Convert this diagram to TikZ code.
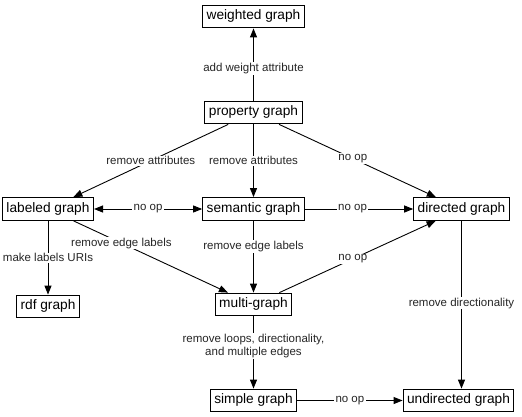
\documentclass[tikz,border=0pt]{standalone}
\usepackage{fontspec}
\setmainfont{Liberation Sans}
\usetikzlibrary{arrows.meta}
\begin{document}
\begin{tikzpicture}[x=1pt,y=-1pt,
 >={Triangle[length=9pt,width=7pt]},
 box/.style={draw, line width=1pt, font=\fontsize{13.7}{16}\selectfont, inner xsep=4pt, inner ysep=5pt, text height=9.8pt, text depth=3pt},
 lbl/.style={fill=white, font=\fontsize{11.5}{12.5}\selectfont, inner xsep=1.5pt, inner ysep=1pt, text=black!85},
 arr/.style={line width=0.9pt, ->},
]
\useasboundingbox (0,0) rectangle (522,416);
\node[box] (w) at (253.5,16.5) {weighted graph};
\node[box] (p) at (253.5,112.5) {property graph};
\node[box] (l) at (48,209) {labeled graph};
\node[box] (s) at (253.5,209) {semantic graph};
\node[box] (d) at (461.5,209) {directed graph};
\node[box] (r) at (48,306.5) {rdf graph};
\node[box] (m) at (253.5,304.5) {multi-graph};
\node[box] (sg) at (253.5,400.5) {simple graph};
\node[box] (u) at (458.5,400.5) {undirected graph};

\draw[arr] (p) -- node[lbl,pos=0.44]{add weight attribute} (w);
\draw[arr] (p) -- node[lbl]{remove attributes} (l);
\draw[arr] (p) -- node[lbl]{remove attributes} (s);
\draw[arr] (p) -- node[lbl,pos=0.47]{no op} (d);
\draw[arr,<->] (l) -- node[lbl]{no op} (s);
\draw[arr] (s) -- node[lbl,pos=0.44]{no op} (d);
\draw[arr] (l) -- node[lbl]{make labels URIs} (r);
\draw[arr] (l) -- node[lbl,pos=0.31]{remove edge labels} (m);
\draw[arr] (s) -- node[lbl,pos=0.36]{remove edge labels} (m);
\draw[arr] (m) -- node[lbl,pos=0.47]{no op} (d);
\draw[arr] (m) -- node[lbl,pos=0.41,align=center]{remove loops, directionality,\\and multiple edges} (sg);
\draw[arr] (d.south) -- node[lbl,pos=0.49]{remove directionality} (d.south |- u.north);
\draw[arr] (sg) -- node[lbl]{no op} (u);
\end{tikzpicture}
\end{document}
